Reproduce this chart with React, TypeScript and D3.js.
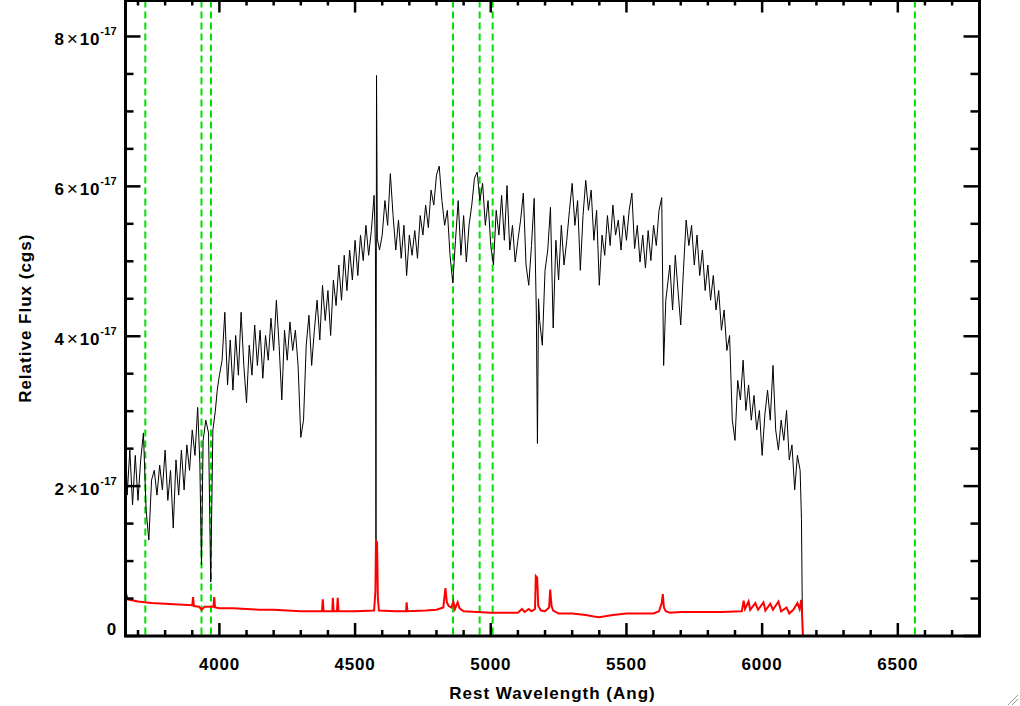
import React from "react";
import * as d3 from "d3";

// rest wavelength (Ang), relative flux (1e-17 cgs)
const galaxyFlux: [number, number][] = [
  [3655, 2.55], [3660, 1.88], [3670, 2.48], [3680, 1.75], [3690, 2.41], [3700, 1.81],
  [3710, 2.35], [3720, 2.71], [3730, 1.68], [3740, 1.28], [3750, 2.08], [3760, 2.21],
  [3770, 1.88], [3780, 2.28], [3790, 1.95], [3800, 2.48], [3810, 1.81], [3820, 2.21],
  [3830, 1.44], [3840, 2.35], [3850, 1.88], [3860, 2.48], [3870, 1.95], [3880, 2.55],
  [3890, 2.21], [3900, 2.75], [3910, 2.41], [3920, 3.05], [3928, 2.3], [3934, 0.95],
  [3940, 2.61], [3950, 2.88], [3960, 2.71], [3968, 0.72], [3976, 2.75], [3985, 3.0],
  [3992, 3.28], [4000, 3.48], [4010, 3.68], [4020, 4.32], [4030, 3.35], [4040, 3.95],
  [4050, 3.28], [4060, 4.01], [4070, 3.48], [4080, 4.32], [4090, 3.61], [4100, 3.11],
  [4110, 3.88], [4120, 3.48], [4130, 4.15], [4140, 3.61], [4150, 4.08], [4160, 3.44],
  [4170, 4.01], [4180, 3.68], [4190, 4.24], [4200, 3.81], [4210, 4.48], [4220, 3.88],
  [4230, 3.15], [4240, 4.08], [4250, 3.68], [4260, 4.19], [4270, 3.81], [4280, 4.08],
  [4290, 3.61], [4300, 2.65], [4310, 2.88], [4320, 3.88], [4330, 4.28], [4340, 3.61],
  [4350, 4.08], [4360, 4.48], [4370, 3.95], [4380, 4.68], [4390, 4.21], [4400, 4.61],
  [4410, 4.01], [4420, 4.75], [4430, 4.41], [4440, 4.95], [4450, 4.48], [4460, 5.08],
  [4470, 4.61], [4480, 5.15], [4490, 4.75], [4500, 5.28], [4510, 4.81], [4520, 5.35],
  [4530, 5.01], [4540, 5.48], [4550, 5.08], [4560, 5.41], [4570, 5.88], [4575, 5.2],
  [4577, 1.1], [4579, 7.48], [4582, 5.3], [4590, 5.15], [4600, 5.35], [4610, 5.81],
  [4620, 5.48], [4630, 6.17], [4640, 5.61], [4650, 5.15], [4660, 5.55], [4670, 5.04],
  [4680, 5.48], [4690, 4.81], [4700, 5.35], [4710, 5.08], [4720, 5.41], [4730, 5.04],
  [4740, 5.61], [4750, 5.35], [4760, 5.75], [4770, 5.45], [4780, 5.95], [4790, 5.75],
  [4800, 6.15], [4810, 6.27], [4820, 5.81], [4830, 5.48], [4840, 5.68], [4850, 5.08],
  [4860, 4.71], [4870, 5.28], [4880, 5.81], [4890, 5.08], [4900, 5.61], [4910, 4.99],
  [4920, 5.48], [4930, 5.75], [4940, 6.11], [4950, 6.19], [4960, 5.81], [4970, 6.04],
  [4980, 5.48], [4990, 5.81], [5000, 5.21], [5010, 4.95], [5020, 5.68], [5030, 5.35],
  [5040, 5.88], [5050, 5.28], [5060, 6.01], [5070, 5.15], [5080, 5.48], [5090, 4.99],
  [5100, 5.28], [5110, 5.55], [5120, 5.91], [5130, 4.95], [5140, 4.68], [5150, 5.21],
  [5160, 5.84], [5168, 4.3], [5172, 2.57], [5176, 4.5], [5180, 4.21], [5190, 3.88],
  [5200, 4.88], [5210, 5.15], [5220, 5.72], [5230, 4.11], [5240, 5.28], [5250, 4.75],
  [5260, 5.48], [5270, 4.95], [5280, 5.28], [5290, 5.68], [5300, 6.04], [5310, 5.48],
  [5320, 5.81], [5330, 4.88], [5340, 5.61], [5350, 6.08], [5360, 5.68], [5370, 5.95],
  [5380, 5.28], [5390, 5.68], [5400, 4.68], [5410, 5.35], [5420, 5.08], [5430, 5.61],
  [5440, 5.21], [5450, 5.75], [5460, 5.35], [5470, 5.55], [5480, 5.15], [5490, 5.61],
  [5500, 5.28], [5510, 5.68], [5520, 5.91], [5530, 5.17], [5540, 5.48], [5550, 4.99],
  [5560, 5.35], [5570, 4.91], [5580, 5.41], [5590, 5.01], [5600, 5.48], [5610, 5.21],
  [5620, 5.68], [5630, 5.85], [5637, 3.61], [5645, 4.48], [5660, 4.95], [5670, 4.35],
  [5680, 5.08], [5690, 4.61], [5700, 4.15], [5710, 4.88], [5720, 5.55], [5730, 5.21],
  [5740, 5.48], [5750, 4.95], [5760, 5.35], [5770, 4.81], [5780, 5.15], [5790, 4.61],
  [5800, 4.95], [5810, 4.48], [5820, 4.81], [5830, 4.35], [5840, 4.61], [5850, 4.08],
  [5860, 4.35], [5870, 3.81], [5880, 4.01], [5890, 2.88], [5900, 2.61], [5910, 3.41],
  [5920, 3.15], [5930, 3.68], [5940, 3.01], [5950, 3.35], [5960, 2.88], [5970, 3.21],
  [5980, 2.75], [5990, 3.01], [6000, 2.41], [6010, 2.95], [6020, 3.28], [6030, 2.88],
  [6040, 3.61], [6050, 2.75], [6060, 2.48], [6070, 2.88], [6080, 2.61], [6090, 3.01],
  [6100, 2.35], [6110, 2.55], [6120, 1.95], [6130, 2.41], [6140, 2.21], [6145, 1.55],
  [6148, 0.35], [6150, 0], [6800, 0],
];

const errorFlux: [number, number][] = [
  [3655, 0.58], [3662, 0.49], [3700, 0.46], [3750, 0.44], [3800, 0.43], [3850, 0.42],
  [3900, 0.41], [3903, 0.52], [3906, 0.4], [3925, 0.39], [3935, 0.35], [3945, 0.39],
  [3978, 0.39], [3981, 0.52], [3984, 0.38], [4000, 0.37], [4050, 0.37], [4100, 0.36],
  [4150, 0.35], [4200, 0.35], [4250, 0.34], [4300, 0.33], [4378, 0.33], [4381, 0.49],
  [4384, 0.33], [4416, 0.33], [4418, 0.51], [4421, 0.33], [4433, 0.33], [4436, 0.51],
  [4439, 0.33], [4500, 0.33], [4570, 0.34], [4575, 0.6], [4577, 1.27], [4581, 1.25],
  [4584, 0.5], [4588, 0.34], [4650, 0.33], [4688, 0.33], [4690, 0.45], [4693, 0.33],
  [4760, 0.34], [4800, 0.35], [4825, 0.38], [4833, 0.64], [4838, 0.45], [4845, 0.4],
  [4855, 0.38], [4862, 0.46], [4868, 0.36], [4878, 0.45], [4885, 0.37], [4900, 0.33],
  [4950, 0.32], [5000, 0.31], [5050, 0.31], [5100, 0.31], [5115, 0.36], [5125, 0.32],
  [5140, 0.36], [5150, 0.33], [5163, 0.36], [5166, 0.8], [5171, 0.78], [5175, 0.4],
  [5185, 0.34], [5200, 0.33], [5215, 0.38], [5219, 0.62], [5224, 0.4], [5230, 0.34],
  [5250, 0.3], [5300, 0.3], [5350, 0.28], [5380, 0.26], [5400, 0.25], [5450, 0.28],
  [5500, 0.3], [5550, 0.3], [5600, 0.3], [5620, 0.33], [5630, 0.44], [5634, 0.56],
  [5638, 0.38], [5645, 0.33], [5660, 0.31], [5700, 0.32], [5750, 0.32], [5800, 0.32],
  [5850, 0.32], [5925, 0.33], [5932, 0.47], [5937, 0.36], [5950, 0.46], [5956, 0.35],
  [5975, 0.44], [5985, 0.35], [6005, 0.45], [6012, 0.34], [6030, 0.43], [6040, 0.35],
  [6060, 0.46], [6070, 0.33], [6090, 0.38], [6100, 0.3], [6115, 0.35], [6130, 0.44],
  [6138, 0.36], [6144, 0.48], [6147, 0.3], [6150, 0], [6800, 0],
];

// [OII], CaK, CaH, Hbeta, [OIII] x2, Halpha
const lineMarkers = [3727, 3934, 3969, 4861, 4959, 5007, 6563];
const xMajorTicks = [4000, 4500, 5000, 5500, 6000, 6500];
const yMajorTicks = [0, 2, 4, 6, 8];

const W = 1020;
const H = 706;
const left = 125.5;
const right = 979.5;
const top = 0.5;
const bottom = 636;
const font = "'Liberation Sans', Arial, Helvetica, sans-serif";

export default function App() {
  const x = d3.scaleLinear([3654, 6801], [left, right]);
  const y = d3.scaleLinear([0, 8.48], [bottom, top]);
  const line = d3.line<[number, number]>((d) => x(d[0]), (d) => y(d[1]));

  const xMinor = d3.range(3700, 6801, 100).filter((v) => v % 500 !== 0);
  const yMinor = d3.range(0.5, 8.5, 0.5).filter((v) => v % 2 !== 0);

  return (
    <svg
      width={W}
      height={H}
      style={{ position: "absolute", left: 0, top: 0, background: "#fff" }}
      fontFamily={font}
      fontWeight="bold"
    >
      <rect width={W} height={H} fill="#fff" />

      {/* emission/absorption markers */}
      <g stroke="#00e000" strokeWidth={2} strokeDasharray="7,4">
        {lineMarkers.map((w) => (
          <line key={w} x1={x(w)} x2={x(w)} y1={top} y2={bottom} />
        ))}
      </g>

      <path d={line(galaxyFlux)!} fill="none" stroke="#000" strokeWidth={1} />
      <path d={line(errorFlux)!} fill="none" stroke="#ff0000" strokeWidth={2} />

      {/* frame */}
      <rect
        x={left}
        y={top}
        width={right - left}
        height={bottom - top}
        fill="none"
        stroke="#000"
        strokeWidth={3}
      />

      {/* ticks, IDL style on all four sides */}
      <g stroke="#000" strokeWidth={2.5}>
        {xMajorTicks.map((v) => (
          <g key={v}>
            <line x1={x(v)} x2={x(v)} y1={bottom} y2={bottom - 13} />
            <line x1={x(v)} x2={x(v)} y1={top} y2={top + 12} />
          </g>
        ))}
        {xMinor.map((v) => (
          <g key={v}>
            <line x1={x(v)} x2={x(v)} y1={bottom} y2={bottom - 6} />
            <line x1={x(v)} x2={x(v)} y1={top} y2={top + 5} />
          </g>
        ))}
        {yMajorTicks.map((v) => (
          <g key={v}>
            <line x1={left} x2={left + 15} y1={y(v)} y2={y(v)} />
            <line x1={right} x2={right - 16} y1={y(v)} y2={y(v)} />
          </g>
        ))}
        {yMinor.map((v) => (
          <g key={v}>
            <line x1={left} x2={left + 8} y1={y(v)} y2={y(v)} />
            <line x1={right} x2={right - 9} y1={y(v)} y2={y(v)} />
          </g>
        ))}
      </g>

      {/* tick labels */}
      <g fontSize={17} fill="#000" letterSpacing={0.8}>
        {xMajorTicks.map((v) => (
          <text key={v} x={x(v)} y={670} textAnchor="middle">
            {v}
          </text>
        ))}
        {yMajorTicks.map((v) =>
          v === 0 ? (
            <text key={v} x={117} y={635} textAnchor="end">
              0
            </text>
          ) : (
            <text key={v} x={117} y={y(v) + 9} textAnchor="end">
              {`${v}`}
              <tspan dx={2} fontSize={19} fontWeight="normal">×</tspan>
              <tspan dx={1}>10</tspan>
              <tspan dy={-10} fontSize={11} letterSpacing={0.3}>
                -17
              </tspan>
            </text>
          )
        )}
      </g>

      {/* axis titles */}
      <g fontSize={17} letterSpacing={1}>
        <text x={(left + right) / 2} y={699} textAnchor="middle">
          Rest Wavelength (Ang)
        </text>
        <text
          transform={`translate(31,${(top + bottom) / 2}) rotate(-90)`}
          textAnchor="middle"
        >
          Relative Flux (cgs)
        </text>
      </g>

      {/* window resize grip */}
      <g stroke="#999" strokeWidth={1}>
        <line x1={1008} y1={705} x2={1018} y2={695} />
        <line x1={1012} y1={705} x2={1018} y2={699} />
      </g>
    </svg>
  );
}
